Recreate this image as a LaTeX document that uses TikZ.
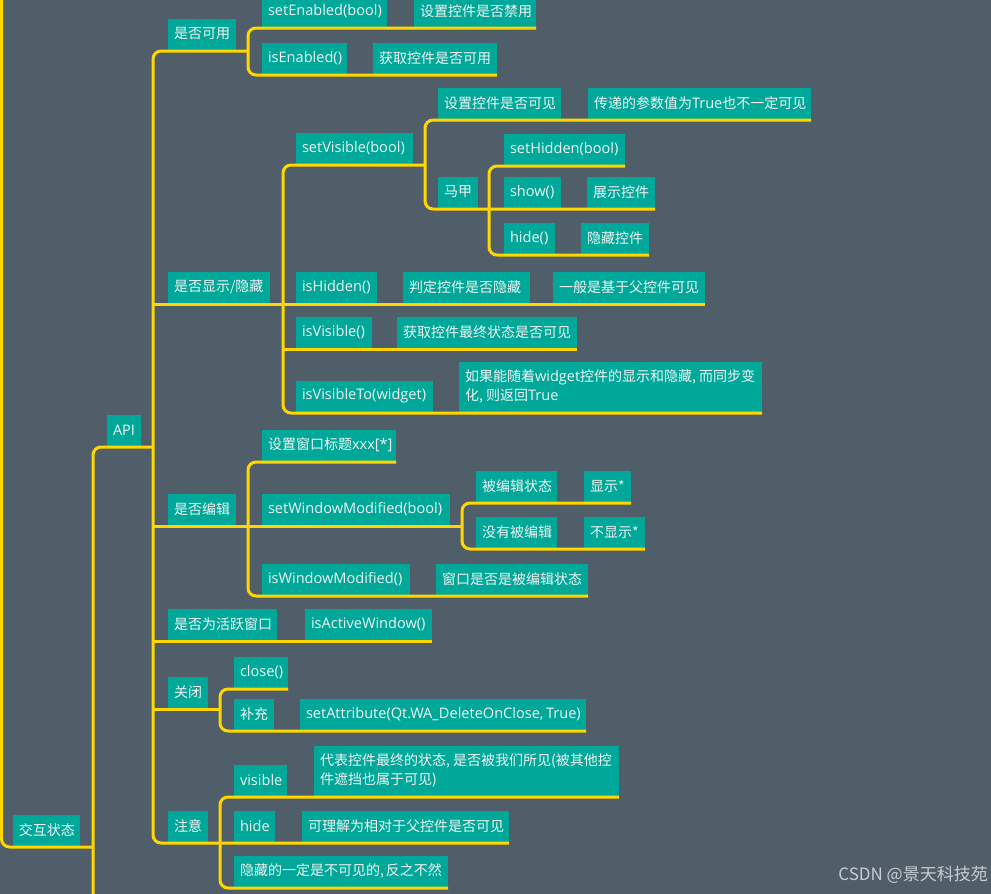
\documentclass[tikz,border=0pt]{standalone}
\usepackage{fontspec}
\setmainfont{Noto Sans CJK SC}
\newfontfamily\latf{Open Sans}[Scale=1.04]
\newcommand\lat[1]{{\latf #1}}
\definecolor{bgc}{RGB}{80,94,106}
\definecolor{tealc}{RGB}{0,168,153}
\definecolor{yel}{RGB}{255,214,0}
\definecolor{txtc}{RGB}{242,242,242}
\definecolor{wmc}{RGB}{200,204,208}
\begin{document}
\begin{tikzpicture}[x=1pt,y=-1pt,
  box/.style={fill=tealc, text=txtc, font=\fontsize{14}{19.5}\selectfont, minimum height=31pt,
    text width=#1pt, align=flush left,
    inner xsep=6pt, inner ysep=0pt, outer xsep=0pt, outer ysep=1.5pt, anchor=south west},
  lbox/.style={box=#1, font=\fontsize{14}{19.5}\selectfont\latf},
  conn/.style={draw=yel, line width=3pt, rounded corners=8pt}]
\fill[bgc] (0,0) rectangle (991,894);
\useasboundingbox (0,0) rectangle (991,894);
\clip (0,0) rectangle (991,894);
% trunk x positions
\coordinate (l0) at (1.5,-10);
\coordinate (b) at (93,0);
\coordinate (bbot) at (93,910);
\coordinate (a) at (153,0);
\coordinate (v1) at (248,0);
\coordinate (v2) at (283,0);
\coordinate (v3) at (425,0);
\coordinate (v4) at (489,0);
\coordinate (v5) at (248,0);
\coordinate (v6) at (462,0);
\coordinate (v7) at (220,0);
\coordinate (v8) at (220,0);
% nodes
\node[box=55] (jh) at (13,847) {交互状态};
\node[lbox=22] (api) at (107,447) {API};
\node[box=56] (kyong) at (168,51) {是否可用};
\node[lbox=113] (setEn) at (262,28) {setEnabled(bool)};
\node[box=110] (setEnD) at (414,28) {设置控件是否禁用};
\node[lbox=73] (isEn) at (262,75) {isEnabled()};
\node[box=112] (isEnD) at (373,75) {获取控件是否可用};
\node[box=90] (xs) at (168,304) {是否显示/隐藏};
\node[lbox=105] (setVis) at (296,165) {setVisible(bool)};
\node[box=111] (sv1) at (438,120) {设置控件是否可见};
\node[box=211] (sv1d) at (588,120) {传递的参数值为\lat{True}也不一定可见};
\node[box=28] (mj) at (438,209) {马甲};
\node[lbox=109] (setHid) at (504,166) {setHidden(bool)};
\node[lbox=45] (show) at (504,209) {show()};
\node[box=56] (showd) at (587,209) {展示控件};
\node[lbox=39] (mjHide) at (504,255) {hide()};
\node[box=56] (mjHideD) at (581,255) {隐藏控件};
\node[lbox=69] (isHid) at (296,304) {isHidden()};
\node[box=115] (isHidD1) at (403,304) {判定控件是否隐藏};
\node[box=140] (isHidD2) at (553,304) {一般是基于父控件可见};
\node[lbox=64] (isVis) at (296,349) {isVisible()};
\node[box=168] (isVisD) at (397,349) {获取控件最终状态是否可见};
\node[lbox=125] (isVisTo) at (296,413) {isVisibleTo(widget)};
\node[box=291,minimum height=50pt] (isVisToD) at (459,413) {如果能随着\lat{widget}控件的显示和隐藏,~而同步变\\化,~则返回\lat{True}};
\node[box=56] (bj) at (168,526) {是否编辑};
\node[box=122] (title) at (262,462) {设置窗口标题\lat{xxx[*]}};
\node[lbox=176] (swm) at (262,526) {setWindowModified(bool)};
\node[box=69] (bj1) at (476,503) {被编辑状态};
\node[box=35] (bj1d) at (584,503) {显示*};
\node[box=69] (bj2) at (476,549) {没有被编辑};
\node[box=49] (bj2d) at (584,549) {不显示*};
\node[lbox=136] (iwm) at (262,596) {isWindowModified()};
\node[box=140] (iwmd) at (436,596) {窗口是否是被编辑状态};
\node[box=97] (hy) at (168,641) {是否为活跃窗口};
\node[lbox=115] (hyd) at (305,641) {isActiveWindow()};
\node[box=28] (gb) at (168,709) {关闭};
\node[lbox=42] (close) at (234,689) {close()};
\node[box=28] (bc) at (234,731) {补充};
\node[lbox=274] (bcd) at (300,731) {setAttribute(Qt.WA\_DeleteOnClose,~True)};
\node[box=28] (zy) at (168,843) {注意};
\node[lbox=41] (vis) at (234,797) {visible};
\node[box=293,minimum height=50pt] (visd) at (314,797) {代表控件最终的状态,~是否被我们所见(被其他控\\件遮挡也属于可见)};
\node[lbox=29] (hid) at (234,843) {hide};
\node[box=195] (hidd) at (302,843) {可理解为相对于父控件是否可见};
\node[box=202] (yc) at (234,888) {隐藏的一定是不可见的,~反之不然};
\node[anchor=east, text=wmc, font=\fontsize{17}{20}\selectfont, inner sep=0pt] (wm) at (988,875) {CSDN @景天科技苑};
% connectors
\draw[conn] (l0) |- (jh.south east -| b);
\draw[conn] (api.south east -| a) -| (bbot);
\draw[conn] (kyong.south east -| v1) -- (kyong.south west -| a) -- (zy.south west -| a) -- (hidd.south east);
\draw[conn] (setEnD.south east) -- (setEn.south west -| v1) -- (isEn.south west -| v1) -- (isEnD.south east);
\draw[conn] (xs.south west -| a) -- (isHidD2.south east);
\draw[conn] (setVis.south east -| v3) -- (setVis.south west -| v2) -- (isVisTo.south west -| v2) -- (isVisToD.south east);
\draw[conn] (sv1d.south east) -- (sv1.south west -| v3) -- (mj.south west -| v3) -- (showd.south east);
\draw[conn] (setHid.south east) -- (setHid.south west -| v4) -- (mjHide.south west -| v4) -- (mjHideD.south east);
\draw[conn] (isVis.south west -| v2) -- (isVisD.south east);
\draw[conn] (bj.south west -| a) -- (swm.south east -| v6);
\draw[conn] (title.south east) -- (title.south west -| v5) -- (iwm.south west -| v5) -- (iwmd.south east);
\draw[conn] (bj1d.south east) -- (bj1.south west -| v6) -- (bj2.south west -| v6) -- (bj2d.south east);
\draw[conn] (hy.south west -| a) -- (hyd.south east);
\draw[conn] (gb.south west -| a) -- (gb.south east -| v7);
\draw[conn] (close.south east) -- (close.south west -| v7) -- (bc.south west -| v7) -- (bcd.south east);
\draw[conn] (visd.south east) -- (vis.south west -| v8) -- (yc.south west -| v8) -- (yc.south east);
\end{tikzpicture}
\end{document}
